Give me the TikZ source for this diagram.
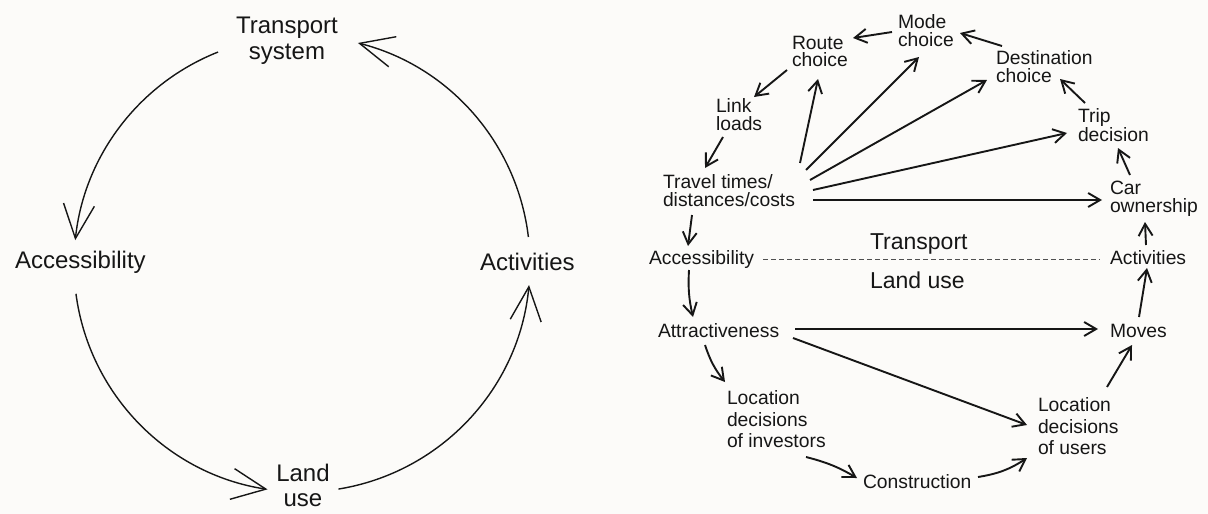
\documentclass[tikz,border=0pt]{standalone}
\usepackage{fontspec}
\setmainfont{Liberation Sans}
\usetikzlibrary{arrows.meta}
\definecolor{ink}{RGB}{22,22,22}
\definecolor{paper}{RGB}{252,251,249}
\begin{document}
\begin{tikzpicture}[x=1pt,y=-1pt,
  lbl/.style={inner sep=0pt, outer sep=0pt, text=ink, align=left, font={\fontsize{19.3}{18}\selectfont}},
  mid/.style={inner sep=0pt, outer sep=0pt, text=ink, font={\fontsize{23}{25}\selectfont}},
  big/.style={inner sep=0pt, outer sep=0pt, text=ink, align=center, font={\fontsize{24}{26}\selectfont}},
  conn/.style={draw=ink, line width=1.9pt, -{Straight Barb[length=12pt,width=14pt]}},
  bigconn/.style={draw=ink, line width=1.4pt, -{Straight Barb[length=34pt,width=31pt]}},
  sep/.style={draw=ink!75, line width=0.9pt, dash pattern=on 5pt off 3pt}]
\useasboundingbox (0,0) rectangle (1208,514);
\fill[paper] (0,0) rectangle (1208,514);

% ---------------- left diagram ----------------
\node[big, anchor=north] (ts) at (287,16.8) {Transport\\system};
\node[big, anchor=base west] (accL) at (15,268) {Accessibility};
\node[big, anchor=base west] (actL) at (480,270) {Activities};
\node[big, anchor=north, font={\fontsize{24}{25}\selectfont}] (lu) at (303,463.8) {Land\\use};
\coordinate (O) at (302,264);
\coordinate (ts-out) at ([shift={(-111.6:228)}]O);
\coordinate (acc-out) at ([shift={(-187.5:228)}]O);
\coordinate (lu-out) at ([shift={(-279.2:228)}]O);
\coordinate (act-out) at ([shift={(-6.8:228)}]O);
\draw[bigconn] (ts-out) arc[start angle=-111.6, end angle=-174, radius=228];
\draw[bigconn] (acc-out) arc[start angle=-187.5, end angle=-261.3, radius=228];
\draw[bigconn] (lu-out) arc[start angle=-279.2, end angle=-354.7, radius=228];
\draw[bigconn] (act-out) arc[start angle=-6.8, end angle=-75.8, radius=228];

% ---------------- right diagram ----------------
\node[lbl, anchor=north west, font={\fontsize{19.3}{17}\selectfont}] (route) at (792,36) {Route\\choice};
\node[lbl, anchor=north west] (mode) at (898,15) {Mode\\choice};
\node[lbl, anchor=north west] (dest) at (996,51) {Destination\\choice};
\node[lbl, anchor=north west, font={\fontsize{19.3}{19}\selectfont}] (trip) at (1078,109) {Trip\\decision};
\node[lbl, anchor=north west] (car) at (1110,181) {Car\\ownership};
\node[lbl, anchor=base west] (actR) at (1110,264) {Activities};
\node[lbl, anchor=base west] (moves) at (1110,337) {Moves};
\node[lbl, anchor=north west, font={\fontsize{19.3}{21.3}\selectfont}] (users) at (1038,398) {Location\\decisions\\of users};
\node[lbl, anchor=base west] (constr) at (863,488) {Construction};
\node[lbl, anchor=north west, font={\fontsize{19.3}{21.5}\selectfont}] (inv) at (727,391) {Location\\decisions\\of investors};
\node[lbl, anchor=base west] (attr) at (658,337) {Attractiveness};
\node[lbl, anchor=base west] (accR) at (649,264) {Accessibility};
\node[lbl, anchor=north west] (ttc) at (663,175) {Travel times/\\distances/costs};
\node[lbl, anchor=north west] (link) at (716,99) {Link\\loads};
\node[mid, anchor=base west] (tr) at (870,249) {Transport};
\node[mid, anchor=base west] (landuse) at (870,288) {Land use};

\draw[conn] ([shift={(-6,17)}]mode.north west) -- ([shift={(61,2)}]route.north west);
\draw[conn] ([shift={(6,-5)}]dest.north west) -- ([shift={(62,18)}]mode.north west);
\draw[conn] ([shift={(7,-6)}]trip.north west) -- ([shift={(64,28)}]dest.north west);
\draw[conn] ([shift={(20,-6)}]car.north west) -- ([shift={(40,39)}]trip.north west);
\draw[conn] ([shift={(36,-19)}]actR.base west) -- ([shift={(35,41)}]car.north west);
\draw[conn] ([shift={(29,-20)}]moves.base west) -- ([shift={(37,4)}]actR.base west);
\draw[conn] ([shift={(69,-11)}]users.north west) -- ([shift={(22,8)}]moves.base west);
\draw[conn] ([shift={(115,-11)}]constr.base west) to[bend right=12] ([shift={(-11,60)}]users.north west);
\draw[conn] ([shift={(79,66)}]inv.north west) to[bend left=8] ([shift={(-6,-10)}]constr.base west);
\draw[conn] ([shift={(47,8)}]attr.base west) to[bend right=10] ([shift={(-2,-9)}]inv.north west);
\draw[conn] ([shift={(137,-8)}]attr.base west) -- ([shift={(-12,-8)}]moves.base west);
\draw[conn] ([shift={(135,1)}]attr.base west) -- ([shift={(-11,27)}]users.north west);
\draw[conn] ([shift={(40,6)}]accR.base west) to[bend right=8] ([shift={(35,-20)}]attr.base west);
\draw[conn] ([shift={(29,40)}]ttc.north west) -- ([shift={(39,-18)}]accR.base west);
\draw[conn] ([shift={(7,38)}]link.north west) -- ([shift={(42,-7)}]ttc.north west);
\draw[conn] ([shift={(-5,34)}]route.north west) -- ([shift={(38,-2)}]link.north west);
\draw[conn] ([shift={(137,-12)}]ttc.north west) -- ([shift={(26,43)}]route.north west);
\draw[conn] ([shift={(143,-5)}]ttc.north west) -- ([shift={(21,42)}]mode.north west);
\draw[conn] ([shift={(147,5)}]ttc.north west) -- ([shift={(-9,29)}]dest.north west);
\draw[conn] ([shift={(150,15)}]ttc.north west) -- ([shift={(-11,24)}]trip.north west);
\draw[conn] ([shift={(150,25)}]ttc.north west) -- ([shift={(-8,19)}]car.north west);
\draw[sep] ([shift={(114,-5)}]accR.base west) -- ([shift={(-10,-5)}]actR.base west);
\end{tikzpicture}
\end{document}
